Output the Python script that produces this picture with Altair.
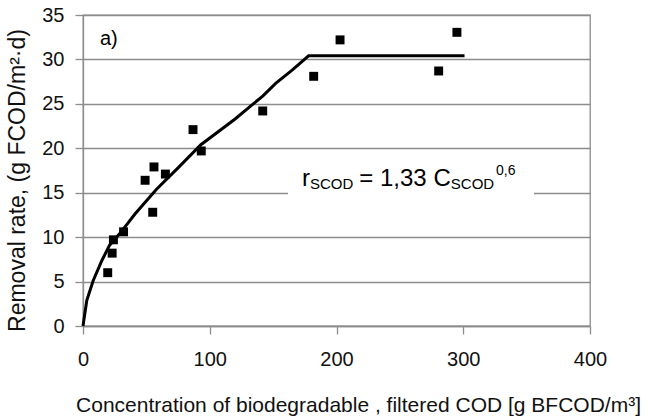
import altair as alt
import pandas as pd

# measured points
conc = [19.5, 23, 24, 32, 55, 49, 56, 65, 86.8, 93.3, 141.8, 182, 202.8, 280.6, 295]
rate = [6.0, 8.2, 9.7, 10.6, 12.8, 16.4, 17.9, 17.1, 22.1, 19.7, 24.2, 28.1, 32.2, 28.7, 33.05]

# fitted curve as drawn
fit_c = [0, 3, 8, 15, 21, 29, 41, 58, 75, 93, 120, 142, 152, 165, 178, 301]
fit_r = [0, 2.9, 5.1, 7.4, 9.1, 10.4, 12.6, 15.4, 17.8, 20.4, 23.3, 25.9, 27.3, 28.8, 30.4, 30.4]

x_ticks = [0, 100, 200, 300, 400]
y_ticks = [0, 5, 10, 15, 20, 25, 30, 35]

FONT = "Liberation Sans"
GRAY = "#8c8c8c"

pts = pd.DataFrame({"c": conc, "r": rate})
fit = pd.DataFrame({"c": fit_c, "r": fit_r, "o": list(range(len(fit_c)))})

xs = alt.Scale(domain=[0, 400], nice=False)
ys = alt.Scale(domain=[0, 35], nice=False)

xax = alt.Axis(values=x_ticks, title="Concentration of biodegradable , filtered COD [g BFCOD/m³]",
               grid=False, ticks=True, tickSize=8, tickColor=GRAY, tickWidth=1.3,
               labelPadding=15, labelFlush=False, labelFontSize=20,
               titleFontSize=21, titleX=275, titleY=85,
               titleAlign="center", titleBaseline="alphabetic")
yax = alt.Axis(values=y_ticks, title="Removal rate, (g FCOD/m²·d)",
               grid=True, ticks=True, tickSize=8, tickColor=GRAY, tickWidth=1.3,
               labelPadding=11, labelFlush=False, labelFontSize=20,
               titleFontSize=23, titleX=-66, titleY=165,
               titleAlign="center", titleBaseline="middle", titleAngle=270)

box = alt.Chart(pd.DataFrame({"x1": [161.7], "x2": [355.8], "y1": [12.5], "y2": [18.6]})).mark_rect(
    fill="white", stroke=None).encode(
    x=alt.X("x1:Q", scale=xs, axis=xax), x2="x2:Q",
    y=alt.Y("y1:Q", scale=ys, axis=yax), y2="y2:Q")

line = alt.Chart(fit).mark_line(color="black", strokeWidth=3).encode(
    x=alt.X("c:Q", scale=xs, axis=xax), y=alt.Y("r:Q", scale=ys, axis=yax), order="o:Q")

sq = alt.Chart(pts).mark_square(color="black", size=80, opacity=1).encode(
    x=alt.X("c:Q", scale=xs, axis=xax), y=alt.Y("r:Q", scale=ys, axis=yax))

main_txt = pd.DataFrame({"x": [172.8, 218.0], "y": [15.75, 15.75], "t": ["r", "= 1,33 C"]})
sub_txt = pd.DataFrame({"x": [179.1, 290.2], "y": [15.45, 15.45], "t": ["SCOD", "SCOD"]})
sup_txt = pd.DataFrame({"x": [325.8], "y": [17.0], "t": ["0,6"]})
lab_txt = pd.DataFrame({"x": [13.4], "y": [31.6], "t": ["a)"]})

def txt(df, size):
    return alt.Chart(df).mark_text(align="left", baseline="alphabetic", font=FONT,
                                   fontSize=size, color="black").encode(
        x=alt.X("x:Q", scale=xs, axis=xax), y=alt.Y("y:Q", scale=ys, axis=yax), text="t:N")

chart = alt.layer(box, line, sq, txt(main_txt, 24), txt(sub_txt, 15), txt(sup_txt, 14),
                  txt(lab_txt, 20)).properties(
    width=507, height=311,
    autosize=alt.AutoSizeParams(type="none"),
    padding={"left": 83, "top": 15, "right": 58, "bottom": 92},
).configure_view(stroke=GRAY, strokeWidth=1.3).configure_axis(
    labelFont=FONT, titleFont=FONT, labelColor="#111111", titleColor="#111111",
    gridColor=GRAY, gridWidth=1.3, domainColor=GRAY, domainWidth=1.3,
    titleFontWeight="normal",
)

chart.save("out.html", embed_options={"renderer": "svg", "actions": False})
